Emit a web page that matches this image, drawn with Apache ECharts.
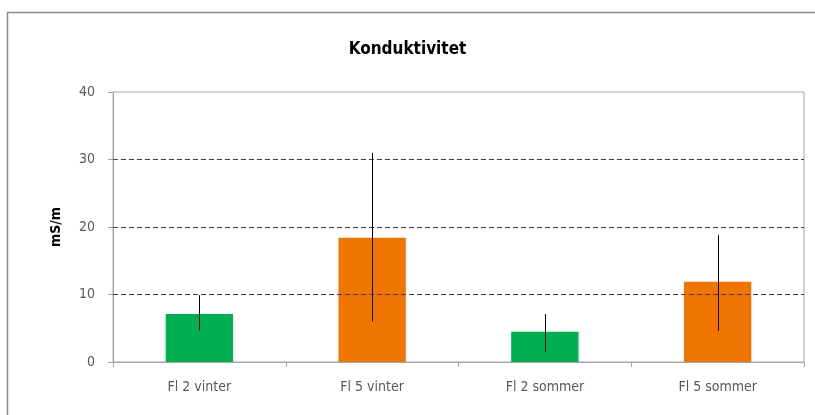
<!DOCTYPE html>
<html><head><meta charset="utf-8">
<script src="https://cdn.jsdelivr.net/npm/echarts@6/dist/echarts.min.js"></script>
<style>html,body{margin:0;padding:0;background:#fff}#c{width:815px;height:415px}</style>
</head><body><div id="c"></div>
<script>
const categories = ['Fl 2 vinter', 'Fl 5 vinter', 'Fl 2 sommer', 'Fl 5 sommer'];
const means = [7.1, 18.4, 4.5, 11.9];
const errLow = [4.7, 6.0, 1.5, 4.6];
const errHigh = [9.9, 31.0, 7.1, 18.8];
const barColors = ['#00b050', '#f07400', '#00b050', '#f07400'];
const yTicks = [0, 10, 20, 30, 40];
const dashedLevels = [10, 20, 30];

const font = "'DejaVu Sans Condensed', 'Liberation Sans Narrow', sans-serif";
const chart = echarts.init(document.getElementById('c'));
chart.setOption({
  animation: false,
  graphic: [{type: 'rect', shape: {x: 7.5, y: 12.5, width: 900, height: 500}, style: {fill: 'none', stroke: '#8c8c8c', lineWidth: 1.5}, z: -1}],
  title: {text: 'Konduktivitet', left: 'center', top: 36, textStyle: {fontFamily: font, fontWeight: 'bold', fontSize: 17, color: '#000'}},
  grid: {left: 113, right: 11, top: 92, bottom: 53, show: true, borderColor: '#a6a6a6', borderWidth: 1},
  xAxis: {
    type: 'category', data: categories,
    axisLine: {lineStyle: {color: '#a6a6a6'}},
    axisTick: {show: true, length: 5, lineStyle: {color: '#a6a6a6'}},
    axisLabel: {fontFamily: font, fontSize: 14, color: '#595959', margin: 18}
  },
  yAxis: {
    type: 'value', min: yTicks[0], max: yTicks[yTicks.length - 1], interval: 10,
    name: 'mS/m', nameLocation: 'middle', nameGap: 50, nameRotate: 90,
    nameTextStyle: {fontFamily: font, fontWeight: 'bold', fontSize: 14, color: '#000'},
    axisLine: {show: true, lineStyle: {color: '#a6a6a6'}},
    axisTick: {show: true, length: 5, lineStyle: {color: '#a6a6a6'}},
    axisLabel: {fontFamily: font, fontSize: 14, color: '#595959', margin: 18},
    splitLine: {show: false}
  },
  series: [
    {
      type: 'bar', barWidth: '39%',
      data: means.map((v, i) => ({value: v, itemStyle: {color: barColors[i]}})),
      markLine: {
        silent: true, symbol: 'none', label: {show: false},
        lineStyle: {type: [5, 3], color: '#404040', width: 1},
        data: dashedLevels.map(v => ({yAxis: v}))
      },
      z: 2
    },
    {
      type: 'custom', z: 5,
      data: categories.map((c, i) => [i, errLow[i], errHigh[i]]),
      renderItem: function (params, api) {
        const lo = api.coord([api.value(0), api.value(1)]);
        const hi = api.coord([api.value(0), api.value(2)]);
        const x = Math.round(lo[0]) + 0.5;
        return {type: 'line', shape: {x1: x, y1: lo[1], x2: x, y2: hi[1]}, style: {stroke: '#000', lineWidth: 1}};
      }
    }
  ]
});
</script></body></html>
